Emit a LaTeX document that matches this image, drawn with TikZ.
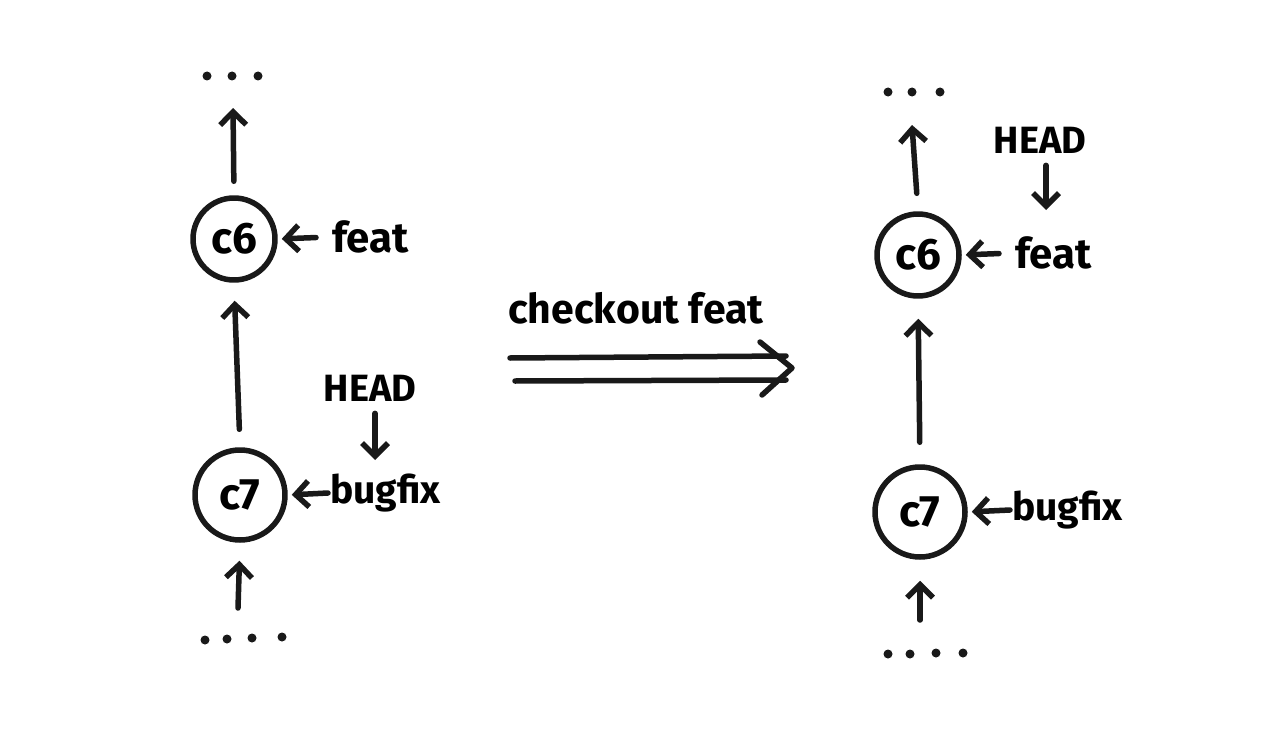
\documentclass[tikz,border=0pt]{standalone}
\usepackage{fontspec}
\setmainfont{Fira Sans}
\usetikzlibrary{arrows.meta}
\begin{document}
\begin{tikzpicture}[x=1pt,y=-1pt,
  ink/.style={line width=5.5pt,line cap=round,line join=round,draw=black!90},
  arr/.style={ink,-{Straight Barb[length=13pt,width=26pt,line width=5.5pt]}},
  commit/.style={circle,ink,minimum width=80pt,inner sep=0pt,font=\fontsize{44}{52}\selectfont\bfseries},
  lbl/.style={font=\fontsize{42}{50}\selectfont\bfseries,inner sep=2pt},
  bug/.style={font=\fontsize{39}{48}\selectfont\bfseries,inner sep=2pt},
  headlbl/.style={font=\fontsize{38}{44}\selectfont\bfseries,inner sep=2pt},
  cmdlbl/.style={font=\fontsize{41}{50}\selectfont\bfseries,inner sep=2pt},
  dot/.style={circle,fill=black!90,inner sep=0pt,minimum size=9pt}]
\useasboundingbox[fill=white] (0,0) rectangle (1280,752);

% ---------- left ----------
\node[dot] (ltd1) at (207,76) {};
\node[dot] (ltd2) at (232,76) {};
\node[dot] (ltd3) at (258,76) {};
\node[commit,minimum width=82pt] (lc6) at (234,239) {c6};
\node[commit,minimum width=90pt] (lc7) at (240,495) {c7};
\node[lbl,anchor=west] (lfeat) at (330,237) {feat};
\node[headlbl] (lhead) at (370,388) {HEAD};
\node[bug,anchor=west] (lbug) at (328,493) {bugfix};
\coordinate (ltop) at (233,108);
\coordinate (lbot) at (238,608);
\coordinate (lheadtip) at (375,460);
\node[dot] (lbd1) at (205,640) {};
\node[dot] (lbd2) at (227,639) {};
\node[dot] (lbd3) at (252,638) {};
\node[dot] (lbd4) at (282,637) {};

\draw[arr,shorten <=14pt] (lc6.north) -- (ltop);
\draw[arr,shorten <=18pt,shorten >=18pt] (lc7.north) -- (lc6.south);
\draw[arr,shorten >=18pt] (lbot) -- (lc7.south);
\draw[arr,shorten <=14pt,shorten >=4pt] (lfeat.west) -- (lc6.east);
\draw[arr,shorten >=4pt] (lbug.west) -- (lc7.east);
\draw[arr] ([xshift=5pt,yshift=-10pt]lhead.south) -- (lheadtip);

% ---------- middle ----------
\node[cmdlbl] (cmd) at (636,308) {checkout feat};
\coordinate (a1s) at (510,358);
\coordinate (a1e) at (786,356);
\coordinate (a2s) at (515,381);
\coordinate (a2e) at (786,380);
\coordinate (tip) at (792,368);
\coordinate (h1) at (760,342);
\coordinate (h2) at (762,395);
\draw[ink] (a1s) -- (a1e);
\draw[ink] (a2s) -- (a2e);
\draw[ink] (h1) -- (tip) -- (h2);

% ---------- right ----------
\node[dot] (rtd1) at (888,92) {};
\node[dot] (rtd2) at (912,92) {};
\node[dot] (rtd3) at (940,92) {};
\node[commit,minimum width=82pt] (rc6) at (918,255) {c6};
\node[commit,minimum width=90pt] (rc7) at (920,512) {c7};
\node[lbl,anchor=west] (rfeat) at (1013,253) {feat};
\node[headlbl] (rhead) at (1040,140) {HEAD};
\node[bug,anchor=west] (rbug) at (1010,510) {bugfix};
\coordinate (rtop) at (912,125);
\coordinate (rbot) at (920,620);
\coordinate (rheadtip) at (1046,210);
\node[dot] (rbd1) at (888,654) {};
\node[dot] (rbd2) at (910,654) {};
\node[dot] (rbd3) at (936,653) {};
\node[dot] (rbd4) at (963,653) {};

\draw[arr,shorten <=18pt] (rc6.north) -- (rtop);
\draw[arr,shorten <=22pt,shorten >=20pt] (rc7.north) -- (rc6.south);
\draw[arr,shorten >=21pt] (rbot) -- (rc7.south);
\draw[arr,shorten <=14pt,shorten >=4pt] (rfeat.west) -- (rc6.east);
\draw[arr,shorten >=4pt] (rbug.west) -- (rc7.east);
\draw[arr] ([xshift=6pt,yshift=-10pt]rhead.south) -- (rheadtip);
\end{tikzpicture}
\end{document}
